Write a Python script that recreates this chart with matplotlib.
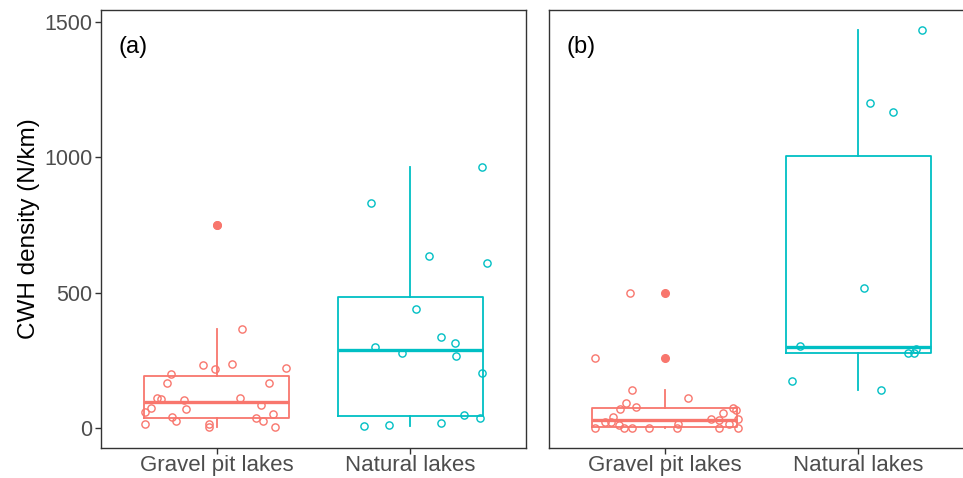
import matplotlib
matplotlib.use("Agg")
import matplotlib.pyplot as plt
import numpy as np

plt.rcParams['font.family'] = ['Liberation Sans', 'DejaVu Sans']

groups = ["Gravel pit lakes", "Natural lakes"]
colors = ["#F8766D", "#00BFC4"]

# (a) gravel pit lakes: values and jitter offsets (category units)
a_gravel = [366, 232, 218, 236, 223, 201, 168, 168, 113, 108, 105, 113, 85,
            74, 70, 60, 53, 42, 28, 36, 27, 15, 15, 3, 3, 750]
a_gravel_dx = [0.13, -0.07, -0.01, 0.08, 0.36, -0.24, -0.26, 0.27, -0.31, -0.29,
               -0.17, 0.12, 0.23, -0.34, -0.16, -0.37, 0.29, -0.23, -0.21, 0.20,
               0.24, -0.37, -0.04, -0.04, 0.30, 0.0]
# (a) natural lakes
a_natural = [963, 832, 636, 611, 441, 337, 316, 298, 278, 268, 203, 49, 37, 18, 12, 6]
a_natural_dx = [0.37, -0.20, 0.10, 0.40, 0.03, 0.16, 0.23, -0.18, -0.04, 0.24,
                0.37, 0.28, 0.36, 0.16, -0.11, -0.24]
# (b) gravel pit lakes
b_gravel = [499, 259, 140, 113, 92, 72, 78, 74, 66, 56, 42, 34, 32, 29, 22, 22,
            12, 15, 15, 0, 0, 0, 0, 0, 0, 0]
b_gravel_dx = [-0.18, -0.36, -0.17, 0.12, -0.20, -0.23, -0.15, 0.35, 0.37, 0.30,
               -0.27, 0.38, 0.24, 0.28, -0.31, -0.28, -0.24, 0.07, 0.33, -0.36,
               -0.21, -0.17, -0.08, 0.06, 0.28, 0.38]
# (b) natural lakes
b_natural = [1471, 1201, 1167, 516, 305, 292, 276, 276, 174, 139]
b_natural_dx = [0.33, 0.06, 0.18, 0.03, -0.30, 0.30, 0.26, 0.29, -0.34, 0.12]

panels = [
    ("(a)", [a_gravel, a_natural], [a_gravel_dx, a_natural_dx]),
    ("(b)", [b_gravel, b_natural], [b_gravel_dx, b_natural_dx]),
]

W, H = 963, 478
fig = plt.figure(figsize=(W / 100, H / 100), dpi=100)

# axes boxes in pixels: left, right, top, bottom
boxes = [(101, 526, 10, 448), (549, 974, 10, 448)]

for i, (label, vals, dxs) in enumerate(panels):
    l, r, t, b = boxes[i]
    ax = fig.add_axes([l / W, 1 - b / H, (r - l) / W, (b - t) / H])
    for j, (v, dx) in enumerate(zip(vals, dxs)):
        c = colors[j]
        ax.boxplot(v, positions=[j + 1], widths=0.75, showcaps=False,
                   patch_artist=False, manage_ticks=False,
                   boxprops=dict(color=c, linewidth=1.3),
                   whiskerprops=dict(color=c, linewidth=1.3),
                   medianprops=dict(color=c, linewidth=2.4),
                   flierprops=dict(marker='o', markerfacecolor=c, markeredgecolor=c,
                                   markersize=5.5))
        ax.plot(np.array(dx) + j + 1, v, 'o', mfc='none', mec=c, ms=5.2, mew=1.0,
                linestyle='none')
    ax.set_xlim(0.4, 2.6)
    ax.set_ylim(-73.5, 1544.5)
    ax.set_xticks([1, 2])
    ax.set_xticklabels(groups)
    ax.set_yticks([0, 500, 1000, 1500])
    for s in ax.spines.values():
        s.set_color("#333333")
        s.set_linewidth(1.0)
    ax.tick_params(colors="#333333", labelcolor="#4D4D4D", length=4, width=1.0)
    ax.tick_params(axis='x', labelsize=16, pad=1)
    ax.tick_params(axis='y', labelsize=15.5, pad=2)
    if i == 0:
        ax.set_ylabel("CWH density (N/km)", fontsize=17.5, color="black", labelpad=3)
    else:
        ax.tick_params(axis='y', left=False, labelleft=False)
    ax.text(0.04, 0.915, label, transform=ax.transAxes, fontsize=17, color="black",
            ha='left', va='center')

fig.savefig("out.png", dpi=100)
